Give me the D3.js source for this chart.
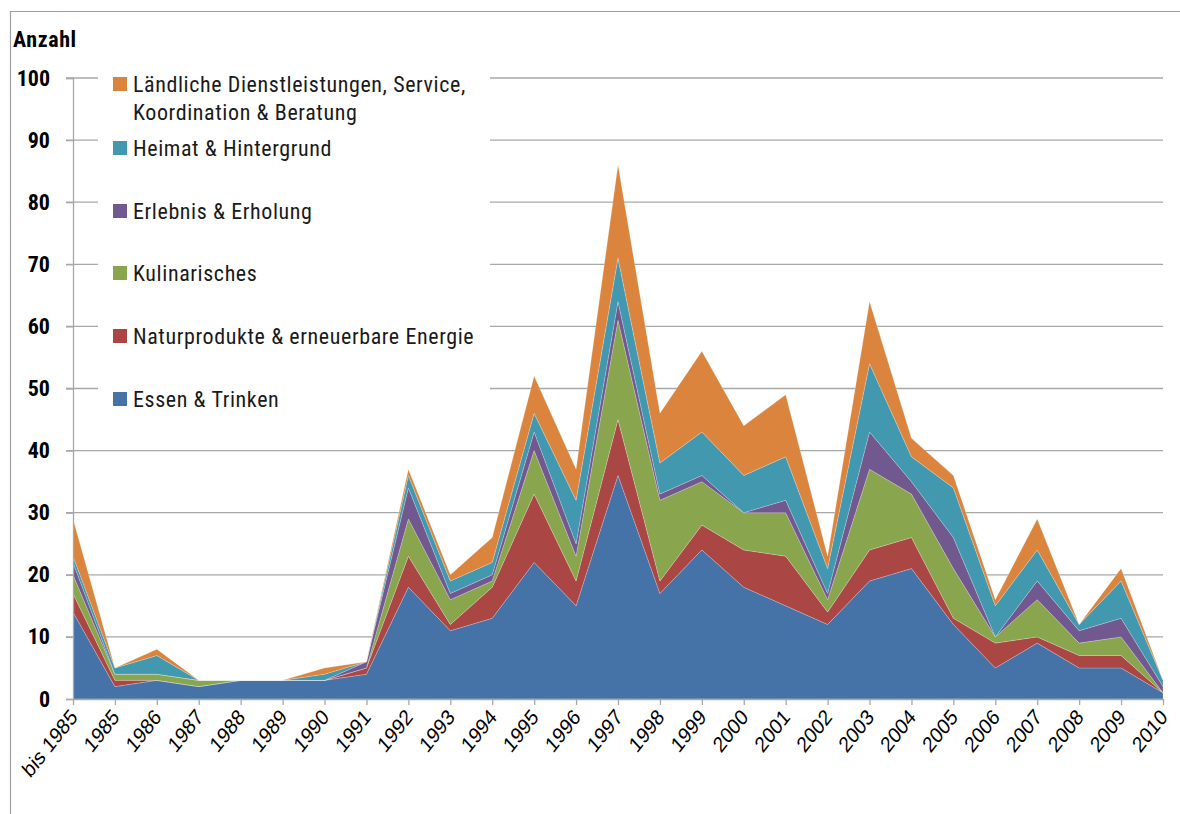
<!DOCTYPE html>
<html>
<head>
<meta charset="utf-8">
<script src="https://cdn.jsdelivr.net/npm/d3@7"></script>
<style>
  body { margin: 0; background: #fff; }
  svg { display: block; }
  .lbl { font-family: "Liberation Sans Narrow", "Roboto Condensed", "DejaVu Sans Condensed", sans-serif; font-stretch: condensed; }
  .xl { font-family: "Liberation Sans", Arial, sans-serif; }
</style>
</head>
<body>
<div id="chart"></div>
<script>
// categories on the x axis
const years = ["bis 1985", "1985", "1986", "1987", "1988", "1989", "1990", "1991", "1992", "1993",
  "1994", "1995", "1996", "1997", "1998", "1999", "2000", "2001", "2002", "2003",
  "2004", "2005", "2006", "2007", "2008", "2009", "2010"];

// one array per series, stacked bottom -> top
const essen     = [14, 2, 3, 2, 3, 3, 3, 4, 18, 11, 13, 22, 15, 36, 17, 24, 18, 15, 12, 19, 21, 12, 5, 9, 5, 5, 1];
const natur     = [3, 1, 0, 0, 0, 0, 0, 1, 5, 1, 5, 11, 4, 9, 2, 4, 6, 8, 2, 5, 5, 1, 4, 1, 2, 2, 0];
const kulinar   = [3, 1, 1, 1, 0, 0, 0, 0, 6, 4, 1, 7, 4, 16, 13, 7, 6, 7, 2, 13, 7, 8, 1, 6, 2, 3, 0];
const erlebnis  = [2, 0, 0, 0, 0, 0, 0, 1, 5, 1, 1, 3, 2, 3, 1, 1, 0, 2, 1, 6, 2, 5, 0, 3, 2, 3, 1];
const heimat    = [1, 1, 3, 0, 0, 0, 1, 0, 2, 2, 2, 3, 7, 7, 5, 7, 6, 7, 4, 11, 4, 8, 5, 5, 1, 6, 1];
const laendlich = [6, 0, 1, 0, 0, 0, 1, 0, 1, 1, 4, 6, 5, 15, 8, 13, 8, 10, 2, 10, 3, 2, 1, 5, 0, 2, 0];

const seriesNames = ["Essen & Trinken", "Naturprodukte & erneuerbare Energie", "Kulinarisches",
  "Erlebnis & Erholung", "Heimat & Hintergrund", "Ländliche Dienstleistungen, Service, Koordination & Beratung"];
const seriesColors = ["#4572A7", "#AA4643", "#89A54E", "#71588F", "#4198AF", "#DB843D"];
const yTicks = [0, 10, 20, 30, 40, 50, 60, 70, 80, 90, 100];

const W = 1180, H = 814;
const plotLeft = 73, plotRight = 1163, plotTop = 78, plotBottom = 699;

const allSeries = [essen, natur, kulinar, erlebnis, heimat, laendlich];
const rows = years.map((yr, i) => {
  const r = { year: yr };
  seriesNames.forEach((n, k) => { r[n] = allSeries[k][i]; });
  return r;
});

const svg = d3.select("#chart").append("svg")
  .attr("width", W)
  .attr("height", H);

const x = d3.scalePoint().domain(years).range([plotLeft, plotRight]);
const y = d3.scaleLinear().domain([0, 100]).range([plotBottom, plotTop]);

// frame
svg.append("path")
  .attr("d", `M10.5,${H} V11.5 H${W}`)
  .attr("fill", "none")
  .attr("stroke", "#a0a0a0")
  .attr("stroke-width", 1.2);

// gridlines
svg.append("g").selectAll("line").data(yTicks.filter(d => d > 0)).enter()
  .append("line")
  .attr("x1", plotLeft - 7).attr("x2", plotRight)
  .attr("y1", d => y(d)).attr("y2", d => y(d))
  .attr("stroke", "#a8a8a8")
  .attr("stroke-width", 1.3);

// stacked areas
const stack = d3.stack().keys(seriesNames);
const layers = stack(rows);
const area = d3.area()
  .x(d => x(d.data.year))
  .y0(d => y(d[0]))
  .y1(d => y(d[1]));

svg.append("g").selectAll("path").data(layers).enter()
  .append("path")
  .attr("d", area)
  .attr("fill", (d, i) => seriesColors[i])
  .attr("stroke", "#ffffff")
  .attr("stroke-opacity", 0.35)
  .attr("stroke-width", 0.6);

// y axis
const yAxis = d3.axisLeft(y).tickValues(yTicks).tickSize(7).tickPadding(16);
const gy = svg.append("g")
  .attr("transform", `translate(${plotLeft},0)`)
  .call(yAxis);
gy.select(".domain").attr("stroke", "#a8a8a8").attr("stroke-width", 1.3);
gy.selectAll(".tick line").attr("stroke", "#a8a8a8").attr("stroke-width", 1.3);
gy.selectAll(".tick text")
  .attr("class", "lbl")
  .style("font-size", "22px")
  .style("font-weight", "bold")
  .attr("fill", "#000");

// x axis - labels slightly squeezed and rotated like the original
const xAxis = d3.axisBottom(x).tickSize(6).tickSizeOuter(0);
const gx = svg.append("g")
  .attr("transform", `translate(0,${plotBottom})`)
  .call(xAxis);
gx.select(".domain").attr("stroke", "#a8a8a8").attr("stroke-width", 1.3);
gx.selectAll(".tick line").attr("stroke", "#a8a8a8").attr("stroke-width", 1.3);
gx.selectAll(".tick text")
  .attr("class", "xl")
  .style("font-size", "22px")
  .attr("fill", "#000")
  .attr("text-anchor", "end")
  .attr("x", 0).attr("y", 0).attr("dy", 0)
  .attr("transform", "translate(5,19) scale(0.85,1) rotate(-47)");

// y title
svg.append("text")
  .attr("class", "lbl")
  .attr("x", 13).attr("y", 47)
  .style("font-size", "22px")
  .style("font-weight", "bold")
  .style("letter-spacing", "0.6px")
  .text("Anzahl");

// legend
const legend = svg.append("g");
legend.append("rect")
  .attr("x", 98).attr("y", 68)
  .attr("width", 392).attr("height", 350)
  .attr("fill", "#fff");

const legendRows = [
  { k: 5, lines: ["Ländliche Dienstleistungen, Service,", "Koordination & Beratung"], cy: 84 },
  { k: 4, lines: ["Heimat & Hintergrund"], cy: 148 },
  { k: 3, lines: ["Erlebnis & Erholung"], cy: 211 },
  { k: 2, lines: ["Kulinarisches"], cy: 273 },
  { k: 1, lines: ["Naturprodukte & erneuerbare Energie"], cy: 336 },
  { k: 0, lines: ["Essen & Trinken"], cy: 399 }
];

const li = legend.selectAll("g.item").data(legendRows).enter()
  .append("g").attr("class", "item");
li.append("rect")
  .attr("x", 113).attr("y", d => d.cy - 7)
  .attr("width", 14).attr("height", 14)
  .attr("fill", d => seriesColors[d.k]);
li.append("text")
  .attr("class", "lbl")
  .attr("x", 133).attr("y", d => d.cy + 8)
  .style("font-size", "22px")
  .style("letter-spacing", "0.6px")
  .attr("fill", "#1a1a1a")
  .selectAll("tspan").data(d => d.lines).enter()
  .append("tspan")
  .attr("x", 133)
  .attr("dy", (d, i) => i === 0 ? 0 : 28)
  .text(d => d);
</script>
</body>
</html>
